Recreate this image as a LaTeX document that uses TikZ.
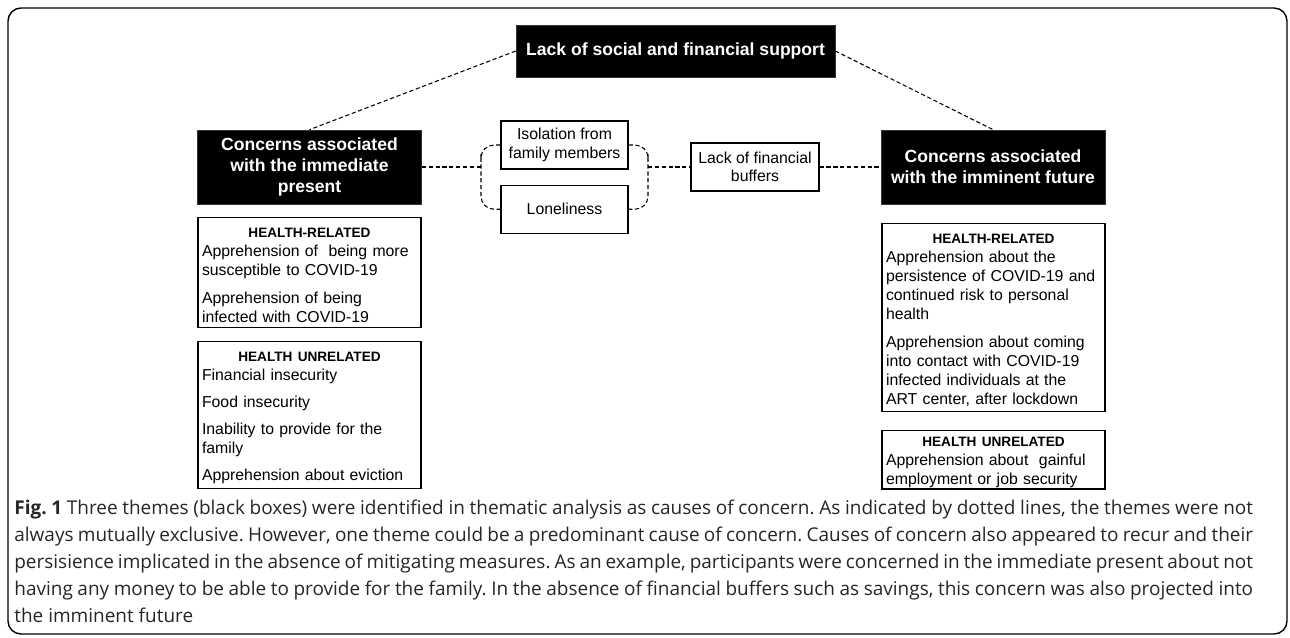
\documentclass[tikz,border=0pt]{standalone}
\usepackage{fontspec}
\setmainfont{Liberation Sans}
\newfontfamily\capfont{Open Sans}
\usetikzlibrary{positioning}

\newcommand{\hdr}[1]{\rule{0pt}{8.6pt}\makebox[\hsize][c]{\fontsize{7.75}{9}\selectfont\bfseries #1}}

\begin{document}
\begin{tikzpicture}[
    x=0.02cm, y=-0.02cm,
    blackbox/.style={fill=black, draw=black!80, text=white, align=center, inner sep=0pt,
        font=\fontsize{10}{12}\selectfont\bfseries},
    textbox/.style={draw, line width=0.7pt, align=center, inner sep=0pt,
        minimum width=2.54cm, minimum height=0.96cm, font=\fontsize{9}{10.6}\selectfont},
    listbox/.style={draw, line width=0.7pt, anchor=north, text width=4.3cm, align=left,
        inner xsep=0.08cm, inner ysep=0.1cm, font=\fontsize{9}{10.8}\selectfont},
    dline/.style={line width=0.6pt, dash pattern=on 2.4pt off 1.5pt}
]
\useasboundingbox (0,0) rectangle (1290,637);
\draw[line width=0.8pt, rounded corners=0.26cm] (8,8) rectangle (1287,634);

\node[blackbox, minimum width=6.38cm, minimum height=1.04cm] (support) at (675.5,51) {Lack of social and financial support};
\node[blackbox, minimum width=4.48cm, minimum height=1.48cm] (present) at (309.5,167) {Concerns associated\\with the immediate\\present};
\node[blackbox, minimum width=4.48cm, minimum height=1.48cm] (future) at (993,167) {Concerns associated\\with the imminent future};

\node[textbox] (iso) at (564.5,145) {Isolation from\\family members};
\node[textbox, below=0.3cm of iso] (lone) {Loneliness};
\node[textbox, minimum width=2.56cm] (buffers) at (755,167) {Lack of financial\\buffers};

\node[listbox] (hrL) at (309.5,217) {\hdr{HEALTH-RELATED}\\
    Apprehension of\ \ being more\\ susceptible to COVID-19\\[5pt]
    Apprehension of being\\ infected with COVID-19};
\node[listbox, below=0.26cm of hrL] (huL) {\hdr{HEALTH UNRELATED}\\
    Financial insecurity\\[4.5pt]
    Food insecurity\\[4.5pt]
    Inability to provide for the\\ family\\[4.5pt]
    Apprehension about eviction};
\node[listbox] (hrR) at (993.5,223) {\hdr{HEALTH-RELATED}\\
    Apprehension about the\\ persistence of COVID-19 and\\ continued risk to personal\\ health\\[5pt]
    Apprehension about coming\\ into contact with COVID-19\\ infected individuals at the\\ ART center, after lockdown};
\node[listbox, below=0.36cm of hrR, inner ysep=0.02cm] (huR) {\hdr{HEALTH UNRELATED}\\
    Apprehension about\ \ gainful\\ employment or job security};

\coordinate (bl) at (481,167);
\coordinate (br) at (648,167);
\draw[dline] (support.west) -- (present.north);
\draw[dline] (support.east) -- (future.north);
\draw[dline] (present.east) -- (bl);
\draw[dline, rounded corners=0.26cm] (iso.west) -| (bl) |- (lone.west);
\draw[dline, rounded corners=0.26cm] (iso.east) -| (br) |- (lone.east);
\draw[dline] (br) -- (buffers.west);
\draw[dline] (buffers.east) -- (future.west);

\node[anchor=north west, text width=24.78cm, align=justify, inner sep=0pt, text=black!85,
    font=\capfont\fontsize{10.8}{15.3}\selectfont\frenchspacing] (caption) at (14,500)
    {\textbf{Fig. 1} Three themes (black boxes) were identified in thematic analysis as causes of concern. As indicated by dotted lines, the themes were not\linebreak
    always mutually exclusive. However, one theme could be a predominant cause of concern. Causes of concern also appeared to recur and their\linebreak
    persisience implicated in the absence of mitigating measures. As an example, participants were concerned in the immediate present about not\linebreak
    having any money to be able to provide for the family. In the absence of financial buffers such as savings, this concern was also projected into\linebreak
    the imminent future};
\end{tikzpicture}
\end{document}
